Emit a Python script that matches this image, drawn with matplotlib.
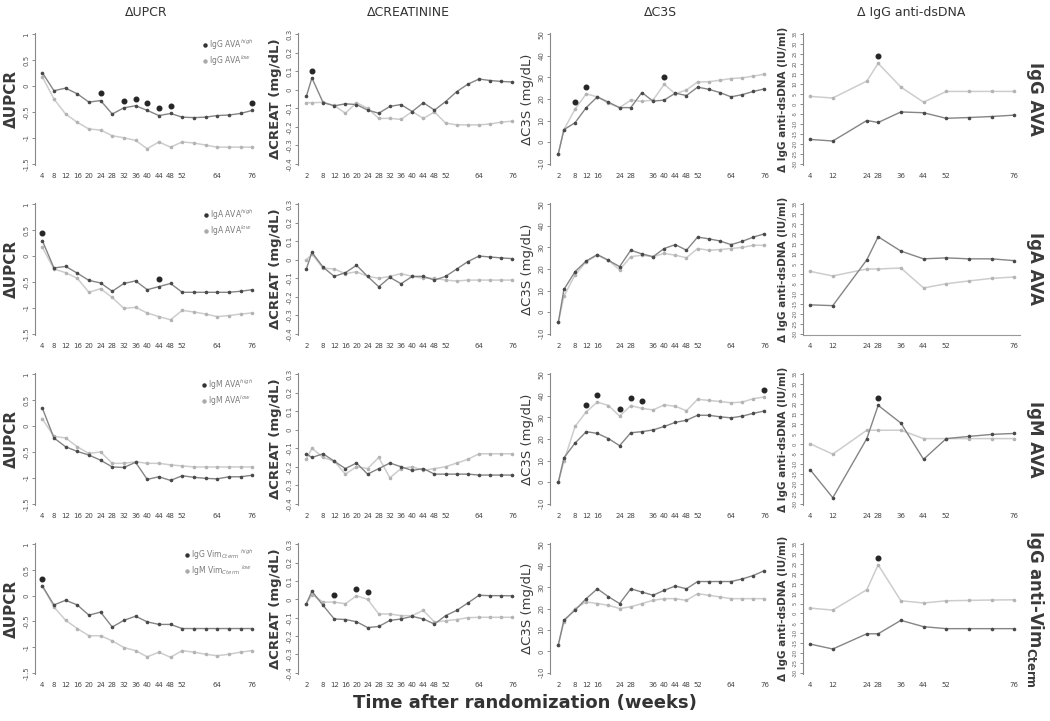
import matplotlib
matplotlib.use("Agg")
import matplotlib.pyplot as plt
from matplotlib.lines import Line2D

# ---------------- data ----------------
wk_upcr = [4, 8, 12, 16, 20, 24, 28, 32, 36, 40, 44, 48, 52, 56, 60, 64, 68, 72, 76]
wk_creat = [2, 4, 8, 12, 16, 20, 24, 28, 32, 36, 40, 44, 48, 52, 56, 60, 64, 68, 72, 76]
wk_c3s = [2, 4, 8, 12, 16, 20, 24, 28, 32, 36, 40, 44, 48, 52, 56, 60, 64, 68, 72, 76]
wk_dna = [4, 12, 24, 28, 36, 44, 52, 60, 68, 76]

xt_upcr = [4, 8, 12, 16, 20, 24, 28, 32, 36, 40, 44, 48, 52, 64, 76]
xt_creat = [2, 8, 12, 16, 20, 24, 28, 32, 36, 40, 44, 48, 52, 64, 76]
xt_c3s = [2, 8, 12, 16, 24, 28, 36, 40, 44, 48, 52, 64, 76]
xt_dna = [4, 12, 24, 28, 36, 44, 52, 76]

yt_upcr = [1, 0.5, 0, -0.5, -1, -1.5]
yt_creat = [0.3, 0.2, 0.1, 0, -0.1, -0.2, -0.3, -0.4]
yt_c3s = [50, 40, 30, 20, 10, 0, -10]
yt_dna = [35, 30, 25, 20, 15, 10, 5, 0, -5, -10, -15, -20, -25, -30]

col_titles = ["\u0394UPCR", "\u0394CREATININE", "\u0394C3S", "\u0394 IgG anti-dsDNA"]
row_labels = ["IgG AVA", "IgA AVA", "IgM AVA", "IgG anti-Vim$_{\\mathregular{Cterm}}$"]
legend_hi = ["IgG AVA$^{high}$", "IgA AVA$^{high}$", "IgM AVA$^{high}$", "IgG Vim$_{Cterm}$ $^{high}$"]
legend_lo = ["IgG AVA$^{low}$", "IgA AVA$^{low}$", "IgM AVA$^{low}$", "IgM Vim$_{Cterm}$ $^{low}$"]

# row 1: IgG AVA
upcr1_hi = [0.26, -0.09, -0.04, -0.15, -0.31, -0.28, -0.54, -0.42, -0.38, -0.47, -0.57, -0.53, -0.60, -0.61, -0.60, -0.57, -0.56, -0.53, -0.47]
upcr1_lo = [0.18, -0.25, -0.54, -0.70, -0.83, -0.85, -0.96, -1.00, -1.05, -1.21, -1.08, -1.18, -1.08, -1.10, -1.14, -1.18, -1.18, -1.18, -1.18]
creat1_hi = [-0.036, 0.064, -0.069, -0.087, -0.076, -0.08, -0.11, -0.127, -0.09, -0.08, -0.118, -0.07, -0.11, -0.064, -0.01, 0.03, 0.058, 0.05, 0.045, 0.042]
creat1_lo = [-0.07, -0.07, -0.068, -0.085, -0.127, -0.07, -0.10, -0.155, -0.155, -0.16, -0.118, -0.155, -0.12, -0.18, -0.19, -0.19, -0.19, -0.185, -0.175, -0.17]
c3s1_hi = [-5.3, 5.8, 9, 16, 21, 18.5, 16, 16, 23, 19, 19.5, 22.7, 21.6, 25.5, 24.5, 23, 21, 22, 23.5, 24.7]
c3s1_lo = [-5.3, 5.8, 15.3, 22.4, 21, 18, 16, 19.5, 18.9, 19.5, 26.8, 22.4, 24.2, 27.9, 28, 28.7, 29.5, 29.8, 30.6, 31.5]
dna1_hi = [-17.8, -18.6, -8.3, -9.3, -4, -4.4, -7.2, -6.8, -6.3, -5.6]
dna1_lo = [3.8, 3, 11.5, 20.4, 8.5, 0.9, 6.3, 6.3, 6.3, 6.3]

# row 2: IgA AVA
upcr2_hi = [0.3, -0.23, -0.2, -0.33, -0.47, -0.52, -0.68, -0.53, -0.48, -0.65, -0.59, -0.53, -0.7, -0.7, -0.7, -0.7, -0.7, -0.68, -0.65]
upcr2_lo = [0.17, -0.25, -0.32, -0.43, -0.7, -0.63, -0.8, -1.01, -0.99, -1.1, -1.17, -1.23, -1.05, -1.08, -1.12, -1.17, -1.15, -1.12, -1.1]
creat2_hi = [-0.05, 0.04, -0.04, -0.09, -0.07, -0.03, -0.09, -0.146, -0.095, -0.13, -0.09, -0.09, -0.11, -0.09, -0.05, -0.01, 0.02, 0.015, 0.01, 0.006]
creat2_lo = [0.0, 0.03, -0.045, -0.05, -0.075, -0.065, -0.09, -0.1, -0.09, -0.075, -0.09, -0.1, -0.1, -0.11, -0.115, -0.11, -0.11, -0.11, -0.11, -0.11]
c3s2_hi = [-4.7, 10.5, 18.8, 23.7, 26.7, 24, 21.1, 28.7, 27, 25.7, 29.5, 31.3, 28.7, 34.8, 34, 33, 31.3, 32.8, 34.8, 36.3]
c3s2_lo = [-4.7, 7.4, 17.3, 23.4, 26.4, 24, 19.6, 25.7, 26.4, 25.7, 27.2, 26.4, 25.2, 29.5, 28.7, 29, 29.5, 30, 31, 31]
dna2_hi = [-15.5, -15.9, 7.1, 18.7, 11.5, 7.6, 8.1, 7.6, 7.6, 6.7]
dna2_lo = [1.3, -1, 2.5, 2.5, 3, -7, -4.9, -3.5, -2.2, -1.5]

# row 3: IgM AVA
upcr3_hi = [0.35, -0.23, -0.4, -0.49, -0.56, -0.66, -0.79, -0.8, -0.7, -1.03, -0.98, -1.05, -0.96, -0.99, -1.01, -1.02, -0.98, -0.98, -0.95]
upcr3_lo = [0.14, -0.2, -0.23, -0.4, -0.53, -0.5, -0.72, -0.72, -0.69, -0.72, -0.72, -0.75, -0.77, -0.79, -0.79, -0.79, -0.79, -0.79, -0.79]
creat3_hi = [-0.13, -0.15, -0.13, -0.17, -0.21, -0.18, -0.24, -0.21, -0.18, -0.2, -0.22, -0.21, -0.24, -0.24, -0.24, -0.24, -0.245, -0.245, -0.245, -0.245]
creat3_lo = [-0.16, -0.1, -0.15, -0.17, -0.24, -0.2, -0.21, -0.15, -0.26, -0.21, -0.2, -0.22, -0.21, -0.2, -0.18, -0.16, -0.13, -0.13, -0.13, -0.13]
c3s3_hi = [0, 11.3, 18.1, 23.4, 22.6, 20.2, 16.9, 22.9, 23.4, 24.2, 25.8, 27.7, 28.7, 31, 31, 30.3, 29.8, 30.6, 31.9, 33]
c3s3_lo = [0, 9.7, 25.8, 32.6, 37.1, 35.5, 30.6, 35.5, 34.2, 33.5, 35.8, 35.2, 33.1, 38.4, 37.9, 37.4, 36.8, 37.1, 38.7, 39.5]
dna3_hi = [-12.9, -27, 2.7, 19.4, 10.5, -7.7, 2.7, 3.8, 4.8, 5.3]
dna3_lo = [0.1, -5.1, 6.9, 6.9, 6.9, 2.7, 2.7, 2.7, 2.7, 2.7]

# row 4: IgG anti-Vim Cterm
upcr4_hi = [0.19, -0.18, -0.09, -0.18, -0.38, -0.32, -0.61, -0.48, -0.4, -0.51, -0.56, -0.56, -0.64, -0.64, -0.64, -0.64, -0.64, -0.64, -0.64]
upcr4_lo = [0.19, -0.22, -0.48, -0.64, -0.78, -0.78, -0.88, -1.01, -1.07, -1.19, -1.1, -1.2, -1.07, -1.1, -1.14, -1.17, -1.14, -1.1, -1.07]
creat4_hi = [-0.024, 0.044, -0.033, -0.107, -0.11, -0.122, -0.154, -0.148, -0.115, -0.107, -0.093, -0.107, -0.135, -0.089, -0.06, -0.02, 0.022, 0.02, 0.02, 0.019]
creat4_lo = [-0.024, 0.026, -0.015, -0.015, -0.024, 0.019, 0.0, -0.08, -0.08, -0.089, -0.089, -0.06, -0.124, -0.117, -0.11, -0.1, -0.098, -0.098, -0.098, -0.098]
c3s4_hi = [3.1, 14.6, 19.2, 24.6, 29.2, 25.5, 22.3, 29.2, 27.7, 26.2, 28.5, 30.5, 29.2, 32.6, 32.6, 32.6, 32.6, 33.8, 35.4, 37.7]
c3s4_lo = [3.1, 13.8, 20, 23.1, 22.3, 21.5, 20, 20.8, 22.3, 23.8, 24.6, 24.6, 23.8, 26.9, 26.2, 25.4, 24.6, 24.6, 24.6, 24.6]
dna4_hi = [-15.5, -18, -10.3, -10.3, -3.5, -6.7, -7.7, -7.7, -7.7, -7.7]
dna4_lo = [2.7, 1.7, 12, 24.6, 6.4, 5.3, 6.4, 6.6, 6.8, 6.9]

# significance markers (weeks)
stars = {
    (0, 0): [24, 32, 36, 40, 44, 48, 76], (0, 1): [4], (0, 2): [8, 12, 40], (0, 3): [28],
    (1, 0): [4, 44], (1, 1): [], (1, 2): [], (1, 3): [],
    (2, 0): [], (2, 1): [], (2, 2): [12, 16, 24, 28, 32, 76], (2, 3): [28],
    (3, 0): [4], (3, 1): [12, 20, 24], (3, 2): [], (3, 3): [28],
}

series = [
    [(upcr1_hi, upcr1_lo), (creat1_hi, creat1_lo), (c3s1_hi, c3s1_lo), (dna1_hi, dna1_lo)],
    [(upcr2_hi, upcr2_lo), (creat2_hi, creat2_lo), (c3s2_hi, c3s2_lo), (dna2_hi, dna2_lo)],
    [(upcr3_hi, upcr3_lo), (creat3_hi, creat3_lo), (c3s3_hi, c3s3_lo), (dna3_hi, dna3_lo)],
    [(upcr4_hi, upcr4_lo), (creat4_hi, creat4_lo), (c3s4_hi, c3s4_lo), (dna4_hi, dna4_lo)],
]
weeks = [wk_upcr, wk_creat, wk_c3s, wk_dna]
xticks = [xt_upcr, xt_creat, xt_c3s, xt_dna]
yticks = [yt_upcr, yt_creat, yt_c3s, yt_dna]
ylabels = ["\u0394UPCR", "\u0394CREAT (mg/dL)", "\u0394C3S (mg/dL)", "\u0394 IgG anti-dsDNA (IU/ml)"]
ylabel_size = [11, 9.5, 9.5, 7.5]
ylabel_weight = ["bold", "bold", "normal", "bold"]
ytick_size = [5, 5, 5, 3.6]

# ---------------- layout ----------------
W, H = 1050, 721
fig = plt.figure(figsize=(W / 100, H / 100), dpi=100)
fig.patch.set_facecolor("white")

col_px = [(35, 258), (298, 518), (550, 770), (803, 1020)]
row_px = [(33, 165), (203, 335), (373, 505), (543, 674)]
xlims = [(1.5, 78), (-1, 78), (-1, 78), (1.5, 78)]

DARK_LINE = "#858585"
DARK_MK = "#4a4a4a"
LIGHT_LINE = "#cdcdcd"
LIGHT_MK = "#b4b4b4"

for r in range(4):
    for c in range(4):
        x0, x1 = col_px[c]
        y0, y1 = row_px[r]
        ax = fig.add_axes([x0 / W, 1 - y1 / H, (x1 - x0) / W, (y1 - y0) / H])
        hi, lo = series[r][c]
        wk = weeks[c]
        ax.plot(wk, lo, color=LIGHT_LINE, lw=1.1, marker="o", ms=1.6,
                mfc=LIGHT_MK, mec=LIGHT_MK, zorder=2)
        ax.plot(wk, hi, color=DARK_LINE, lw=1.0, marker="o", ms=1.6,
                mfc=DARK_MK, mec=DARK_MK, zorder=3)
        yt = yticks[c]
        ymin, ymax = min(yt), max(yt)
        rng = ymax - ymin
        for s in stars[(r, c)]:
            i = wk.index(s)
            ys = max(hi[i], lo[i]) + 0.055 * rng
            ax.plot([s], [ys], marker="o", ms=3.3, color="#262626", zorder=4)
        ax.set_xlim(*xlims[c])
        ax.set_ylim(ymin - 0.01 * rng, ymax + 0.01 * rng)
        ax.set_yticks(yt)
        ax.set_yticklabels([("%g" % v) for v in yt], rotation=90, va="center",
                           fontsize=ytick_size[c], color="#555555")
        ax.set_xticks(xticks[c])
        ax.set_xticklabels([str(v) for v in xticks[c]], fontsize=5, color="#444444")
        ax.tick_params(axis="x", length=0, pad=6)
        ax.tick_params(axis="y", length=2.5, width=0.6, color="#777777", pad=1.5)
        for sp in ["top", "right", "bottom"]:
            ax.spines[sp].set_visible(False)
        ax.spines["left"].set_color("#888888")
        ax.spines["left"].set_linewidth(0.8)
        if r == 1 and c == 3:
            ax.spines["bottom"].set_visible(True)
            ax.spines["bottom"].set_color("#999999")
        ax.set_ylabel(ylabels[c], fontsize=ylabel_size[c], fontweight=ylabel_weight[c],
                      color="#3a3a3a", labelpad=3)
        if c == 0:
            handles = [
                Line2D([], [], ls="none", marker="o", ms=2.2, color="#333333"),
                Line2D([], [], ls="none", marker="o", ms=2.2, color="#aaaaaa"),
            ]
            leg = ax.legend(handles, [legend_hi[r], legend_lo[r]], loc="upper right",
                            fontsize=5.5, frameon=False, handletextpad=0.2,
                            borderaxespad=0.2, labelspacing=0.15, handlelength=0.6)
            for t in leg.get_texts():
                t.set_color("#7a7a7a")
        if r == 0:
            ax.set_title(col_titles[c], fontsize=9, color="#333333", pad=12)
        if c == 3:
            ax.text(1.07, 0.5, row_labels[r], transform=ax.transAxes, rotation=-90,
                    ha="center", va="center", fontsize=12, fontweight="bold",
                    color="#3a3a3a")

fig.text(0.5, 1 - 703 / H, "Time after randomization (weeks)", ha="center", va="center",
         fontsize=13, fontweight="bold", color="#333333")

fig.savefig("out.png", dpi=100, facecolor="white")
